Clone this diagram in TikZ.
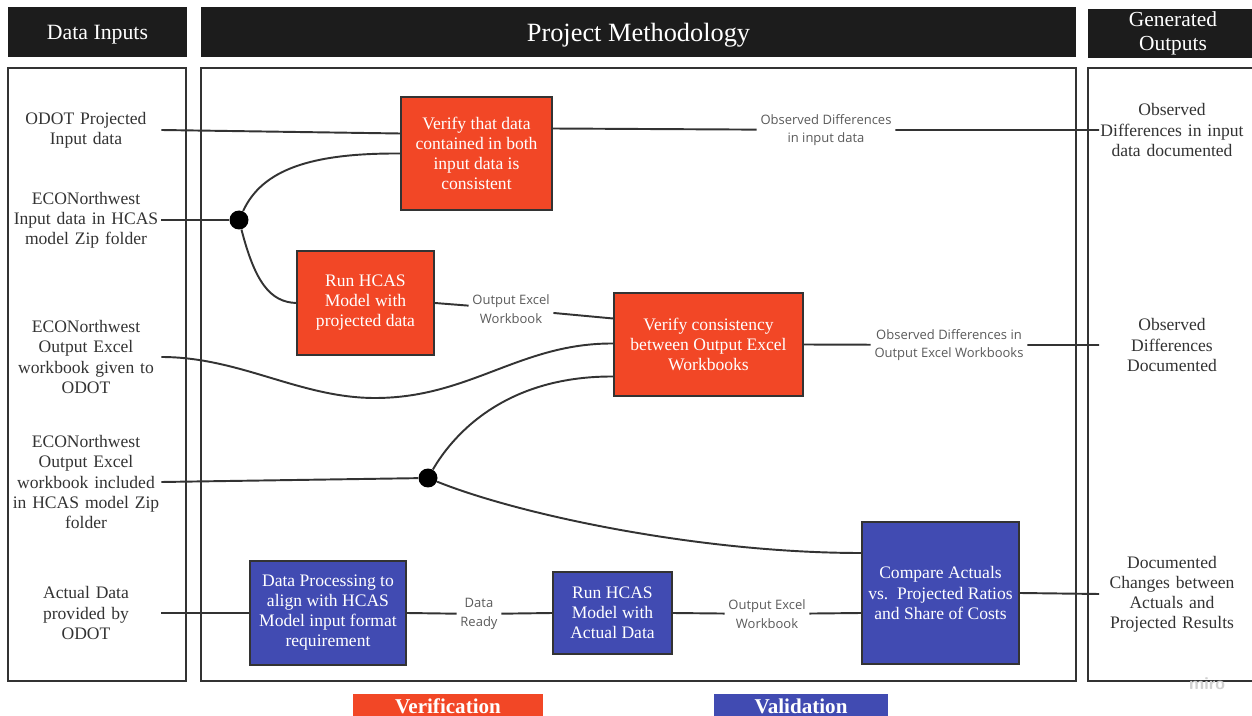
\documentclass[tikz,border=0pt]{standalone}
\usepackage{fontspec}
\setmainfont{Liberation Serif}
\newfontfamily\labelfont{Open Sans}
\usetikzlibrary{calc}
\definecolor{headerblack}{HTML}{1C1C1C}
\definecolor{verifred}{HTML}{F24726}
\definecolor{validblue}{HTML}{414BB2}
\definecolor{linegray}{HTML}{333333}
\definecolor{labelgray}{HTML}{5A5A5A}
\tikzstyle{header_node}=[rectangle, fill=headerblack, text=white, minimum height=1cm, inner sep=0pt, align=center]
\tikzstyle{panel_box}=[rectangle, draw=linegray, line width=1.1pt, inner sep=0pt, minimum height=12.26cm]
\tikzstyle{step_node}=[rectangle, draw=linegray, line width=1.1pt, text=white, align=center, inner sep=0pt, font=\fontsize{10}{11.4}\selectfont]
\tikzstyle{verification_node}=[step_node, fill=verifred]
\tikzstyle{validation_node}=[step_node, fill=validblue]
\tikzstyle{input_text}=[text width=3cm, align=center, inner sep=0pt, text=linegray, font=\fontsize{10}{11.4}\selectfont]
\tikzstyle{output_text}=[input_text, text width=2.9cm]
\tikzstyle{edge_label}=[align=center, inner sep=2pt, text=labelgray, font=\labelfont\fontsize{7.4}{10.4}\selectfont]
\tikzstyle{junction}=[circle, fill=black, minimum size=0.38cm, inner sep=0pt]
\tikzstyle{connector}=[draw=linegray, line width=1.1pt]
\tikzstyle{legend_node}=[rectangle, text=white, minimum height=0.48cm, inner sep=0pt, font=\bfseries\fontsize{12}{13}\selectfont]

\begin{document}
\begin{tikzpicture}[x=0.02cm,y=-0.02cm]

            \useasboundingbox (0,0) rectangle (1252,716);

            % Headers
            \node[header_node,minimum width=3.58cm,text depth=0pt,font=\fontsize{12.4}{14}\selectfont] (inputs_header) at (97.5,32) {Data Inputs};
            \node[header_node,minimum width=17.5cm,text depth=0pt,font=\fontsize{15}{17}\selectfont] (method_header) at (638.5,32) {Project Methodology};
            \node[header_node,minimum width=3.4cm,font=\fontsize{12.2}{13.7}\selectfont] (outputs_header) at (1173,33.5) {Generated\\Outputs};

            % Panels
            \node[panel_box,minimum width=3.56cm] (inputs_panel) at (97,374.5) {};
            \node[panel_box,minimum width=17.5cm] (method_panel) at (638.5,374.5) {};
            \node[panel_box,minimum width=3.4cm] (outputs_panel) at (1173,374.5) {};

            % Data inputs
            \node[input_text] (odot_projected) at (86,130) {ODOT Projected\\Input data};
            \node[input_text] (econ_input) at (86,220) {ECONorthwest\\Input data in HCAS\\model Zip folder};
            \node[input_text] (econ_output_odot) at (86,357) {ECONorthwest\\Output Excel\\workbook given to\\ODOT};
            \node[input_text] (econ_output_zip) at (86,482) {ECONorthwest\\Output Excel\\workbook included\\in HCAS model Zip\\folder};
            \node[input_text] (actual_data) at (86,613) {Actual Data\\provided by\\ODOT};

            % Generated outputs
            \node[output_text] (input_diff_doc) at (1172,130) {Observed\\Differences in input\\data documented};
            \node[output_text] (output_diff_doc) at (1172,345) {Observed\\Differences\\Documented};
            \node[output_text] (changes_doc) at (1172,594) {Documented\\Changes between\\Actuals and\\Projected Results};

            % Verification
            \node[verification_node,minimum width=3.02cm,minimum height=2.26cm] (verify_input) at (476.5,153.5) {Verify that data\\contained in both\\input data is\\consistent};
            \node[verification_node,minimum width=2.74cm,minimum height=2.08cm] (run_projected) at (365.5,303) {Run HCAS\\Model with\\projected data};
            \node[verification_node,minimum width=3.78cm,minimum height=2.06cm] (verify_output) at (708.5,344.5) {Verify consistency\\between Output Excel\\Workbooks};

            % Validation
            \node[validation_node,minimum width=3.12cm,minimum height=2.08cm] (data_processing) at (328,613) {Data Processing to\\align with HCAS\\Model input format\\requirement};
            \node[validation_node,minimum width=2.38cm,minimum height=1.64cm] (run_actual) at (612.5,613) {Run HCAS\\Model with\\Actual Data};
            \node[validation_node,minimum width=3.14cm,minimum height=2.84cm] (compare_actuals) at (940.5,593) {Compare Actuals\\vs.\ \ Projected Ratios\\and Share of Costs};

            % Junctions
            \node[junction] (input_split) at (239,220) {};
            \node[junction] (output_split) at (428,478) {};

            % Connector labels
            \node[edge_label] (input_diff_label) at (826,130) {Observed Differences\\in input data};
            \node[edge_label] (projected_wb_label) at (511,309) {Output Excel\\Workbook};
            \node[edge_label] (output_diff_label) at (949,345) {Observed Differences in\\Output Excel Workbooks};
            \node[edge_label] (data_ready_label) at (479,614) {Data\\Ready};
            \node[edge_label] (actual_wb_label) at (767,614) {Output Excel\\Workbook};

            % Input data check
            \draw[connector] (odot_projected.east) -- ($(verify_input.west) + (0,-20)$);
            \draw[connector] (econ_input.east) -- (input_split);
            \draw[connector] (input_split) .. controls (262,170) and (310,153) .. (verify_input.west);
            \draw[connector] (input_split) .. controls (255,282) and (270,302) .. (run_projected.west);
            \draw[connector] ($(verify_input.east) + (0,-25)$) -- (input_diff_label) -- (input_diff_doc.west);

            % Output workbook check
            \draw[connector] (run_projected.east) -- (projected_wb_label) -- ($(verify_output.west) + (0,-26)$);
            \draw[connector] (econ_output_odot.east) .. controls (240,357) and (300,398) .. (375,398) .. controls (470,398) and (520,343) .. ($(verify_output.west) + (0,-1)$);
            \draw[connector] (econ_output_zip.east) -- (output_split);
            \draw[connector] (output_split) .. controls (450,440) and (500,376) .. ($(verify_output.west) + (0,32)$);
            \draw[connector] (output_split) .. controls (520,515) and (700,553) .. ($(compare_actuals.west) + (0,-40)$);
            \draw[connector] (verify_output.east) -- (output_diff_label) -- (output_diff_doc.west);

            % Actual data
            \draw[connector] (actual_data.east) -- (data_processing.west);
            \draw[connector] (data_processing.east) -- (data_ready_label) -- (run_actual.west);
            \draw[connector] (run_actual.east) -- (actual_wb_label) -- ($(compare_actuals.west) + (0,20)$);
            \draw[connector] (compare_actuals.east) -- (changes_doc.west);

            % Legend
            \node[legend_node,fill=verifred,minimum width=3.8cm] (verification_key) at (448,706) {Verification};
            \node[legend_node,fill=validblue,minimum width=3.48cm] (validation_key) at (801,706) {Validation};

            \node[text=black!18,font=\sffamily\bfseries\fontsize{10}{11}\selectfont] (miro_mark) at (1207,684) {miro};

\end{tikzpicture}
\end{document}
